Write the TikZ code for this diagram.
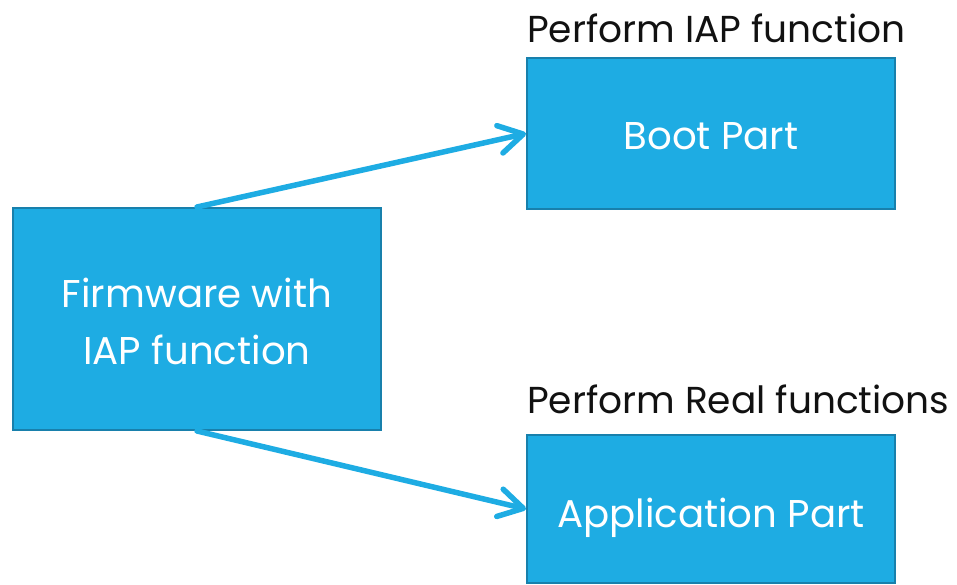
\documentclass[tikz,border=0pt]{standalone}
\usepackage{fontspec}
\setmainfont{Poppins}
\usetikzlibrary{arrows.meta}
\definecolor{boxfill}{RGB}{30,172,227}
\definecolor{boxedge}{RGB}{24,128,172}
\definecolor{labeltext}{RGB}{17,17,17}
\tikzset{
  partbox/.style={draw=boxedge, fill=boxfill, line width=2pt, inner sep=0pt,
    minimum width=368pt, text=white, align=center, text depth=0pt,
    font=\fontsize{38.7pt}{57pt}\selectfont},
  flowarrow/.style={draw=boxfill, line width=5.5pt, line cap=round,
    -{Straight Barb[length=24pt,width=28pt,line cap=round,line join=round]}},
  partlabel/.style={anchor=base west, inner sep=0pt, text=labeltext,
    font=\fontsize{37.5pt}{44pt}\selectfont}
}
\begin{document}
\begin{tikzpicture}[x=1pt,y=-1pt]
  \useasboundingbox (0,0) rectangle (957,585);
  % the firmware image and its two parts
  \node[partbox, minimum height=222pt, text height=90pt] (fw) at (197,319)
        {Firmware with\\IAP function};
  \node[partbox, minimum height=151pt, text height=33pt] (boot) at (711,133.5)
        {Boot Part};
  \node[partbox, minimum height=148pt, text height=36pt] (app) at (711,509)
        {Application Part};
  % captions above the parts
  \node[partlabel] (bootlbl) at (527,43) {Perform IAP function};
  \node[partlabel] (applbl) at (527,413) {Perform Real functions};
  % connectors from the firmware box to each part
  \draw[flowarrow] (fw.north) -- (boot.west);
  \draw[flowarrow] (fw.south) -- (app.west);
\end{tikzpicture}
\end{document}
